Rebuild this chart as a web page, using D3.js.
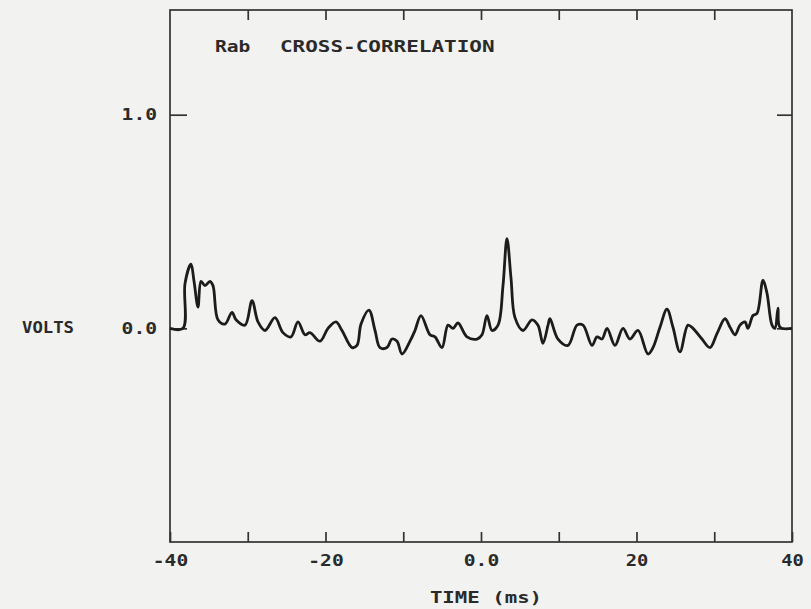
<!DOCTYPE html>
<html>
<head>
<meta charset="utf-8">
<script src="https://cdn.jsdelivr.net/npm/d3@7"></script>
<style>
  html, body { margin: 0; padding: 0; background: #f2f2f0; }
  svg { display: block; }
  text { font-family: "DejaVu Sans Mono", monospace; font-weight: bold; fill: #2a2a2a; }
</style>
</head>
<body>
<script>
// ---- data ----
const timeMs = [-40, -38.33, -38.07, -37.30, -36.91, -36.40, -36.01, -35.50, -34.86, -34.47,
  -33.83, -32.93, -32.03, -31.51, -30.35, -29.45, -28.68, -27.78, -26.50, -25.47,
  -24.44, -23.54, -22.64, -22.0, -20.71, -19.68, -18.65, -17.88, -16.59, -15.95,
  -15.43, -14.41, -13.63, -12.99, -12.09, -11.45, -10.80, -10.16, -9.13, -8.49,
  -7.72, -6.56, -5.92, -5.02, -4.24, -3.60, -2.96, -1.80, -0.51, 0.13,
  0.77, 1.41, 2.19, 2.83, 3.34, 3.86, 4.37, 5.40, 6.56, 7.33,
  7.97, 8.62, 8.87, 9.90, 11.19, 12.35, 13.12, 14.28, 14.92, 15.56,
  16.21, 17.23, 18.26, 19.16, 20.19, 21.48, 22.12, 23.02, 23.92, 24.69,
  25.59, 26.62, 27.27, 28.42, 29.45, 30.35, 31.38, 32.03, 32.67, 33.31,
  33.95, 34.34, 34.98, 35.50, 36.27, 36.78, 37.43, 37.81, 38.20, 38.46, 40.0];
const volts = [0, 0, 0.21, 0.30, 0.22, 0.10, 0.22, 0.20, 0.22, 0.20,
  0.04, 0.02, 0.075, 0.04, 0.015, 0.13, 0.03, -0.01, 0.05, -0.02,
  -0.04, 0.03, -0.03, -0.02, -0.06, 0.0, 0.03, -0.01, -0.09, -0.08,
  0.02, 0.085, -0.01, -0.09, -0.09, -0.05, -0.06, -0.12, -0.06, -0.01,
  0.06, -0.03, -0.04, -0.09, 0.015, 0.0, 0.025, -0.04, -0.05, -0.03,
  0.06, -0.01, 0.015, 0.20, 0.42, 0.235, 0.05, -0.01, 0.04, 0.015,
  -0.07, 0.015, 0.045, -0.05, -0.08, 0.015, 0.015, -0.08, -0.04, -0.05,
  0.0, -0.08, 0.0, -0.05, -0.01, -0.12, -0.09, 0.005, 0.09, 0.005,
  -0.11, 0.015, 0.0, -0.05, -0.09, -0.025, 0.045, 0.005, -0.03, 0.015,
  0.03, 0.0, 0.06, 0.07, 0.225, 0.165, 0.015, 0.0, 0.095, 0.005, 0];
const xTickValues = [-40, -30, -20, -10, 0, 10, 20, 30, 40];
const xTickLabels = {"-40": "-40", "-20": "-20", "0": "0.0", "20": "20", "40": "40"};
const yTickValues = [1.0, 0.0];
const yTickLabels = ["1.0", "0.0"];
const titleParts = ["Rab", "CROSS-CORRELATION"];
const xAxisTitle = "TIME (ms)";
const yAxisTitle = "VOLTS";

// ---- drawing ----
const W = 811, H = 609;
const L = 170, R = 792, T = 10, B = 542;
const PITCH = 12.8;

const svg = d3.select("body").append("svg").attr("width", W).attr("height", H);

const x = d3.scaleLinear().domain([-40, 40]).range([L, R]);
const y = d3.scaleLinear().domain([-1.0, 1.49]).range([B, T]);

function stretch(sel) {
  sel.each(function () {
    const n = this.textContent.length;
    if (n > 0) d3.select(this).attr("textLength", n * PITCH - 3).attr("lengthAdjust", "spacingAndGlyphs");
  });
}

// frame
svg.append("rect").attr("x", L).attr("y", T).attr("width", R - L).attr("height", B - T)
  .attr("fill", "none").attr("stroke", "#333").attr("stroke-width", 1.7);

// bottom axis
const gB = svg.append("g").attr("transform", `translate(0,${B})`)
  .call(d3.axisBottom(x).tickValues(xTickValues).tickSize(-10).tickPadding(13)
    .tickFormat(d => xTickLabels[String(d)] || ""));
// top axis
const gT = svg.append("g").attr("transform", `translate(0,${T})`)
  .call(d3.axisTop(x).tickValues(xTickValues.slice(1, -1)).tickSize(-10).tickFormat(""));
// left axis
const gL = svg.append("g").attr("transform", `translate(${L},0)`)
  .call(d3.axisLeft(y).tickValues(yTickValues).tickSize(-17).tickPadding(13)
    .tickFormat((d, i) => yTickLabels[i]));
// right axis
const gR = svg.append("g").attr("transform", `translate(${R},0)`)
  .call(d3.axisRight(y).tickValues(yTickValues).tickSize(-15).tickFormat(""));

[gB, gT, gL, gR].forEach(g => {
  g.select(".domain").remove();
  g.selectAll(".tick line").attr("stroke", "#333").attr("stroke-width", 1.7);
  g.selectAll("text").attr("font-family", null).attr("font-size", null)
    .style("font-size", "15px").call(stretch);
});

// trace
const pts = timeMs.map((t, i) => [t, volts[i]]);
svg.append("path").datum(pts)
  .attr("fill", "none").attr("stroke", "#1c1c1c").attr("stroke-width", 2.8)
  .attr("stroke-linejoin", "round")
  .attr("d", d3.line().x(d => x(d[0])).y(d => y(d[1])).curve(d3.curveCatmullRom.alpha(0.5)));

// title
svg.append("text").attr("x", 215).attr("y", 52).style("font-size", "15px").text(titleParts[0]).call(stretch);
svg.append("text").attr("x", 280).attr("y", 52).style("font-size", "15px").text(titleParts[1]).call(stretch);

// axis titles
svg.append("text").attr("x", 486).attr("y", 603).attr("text-anchor", "middle")
  .style("font-size", "15px").text(xAxisTitle).call(stretch);
svg.append("text").attr("x", 22).attr("y", y(0) + 5)
  .style("font-size", "15px").text(yAxisTitle)
  .attr("textLength", 52).attr("lengthAdjust", "spacingAndGlyphs");
</script>
</body>
</html>
